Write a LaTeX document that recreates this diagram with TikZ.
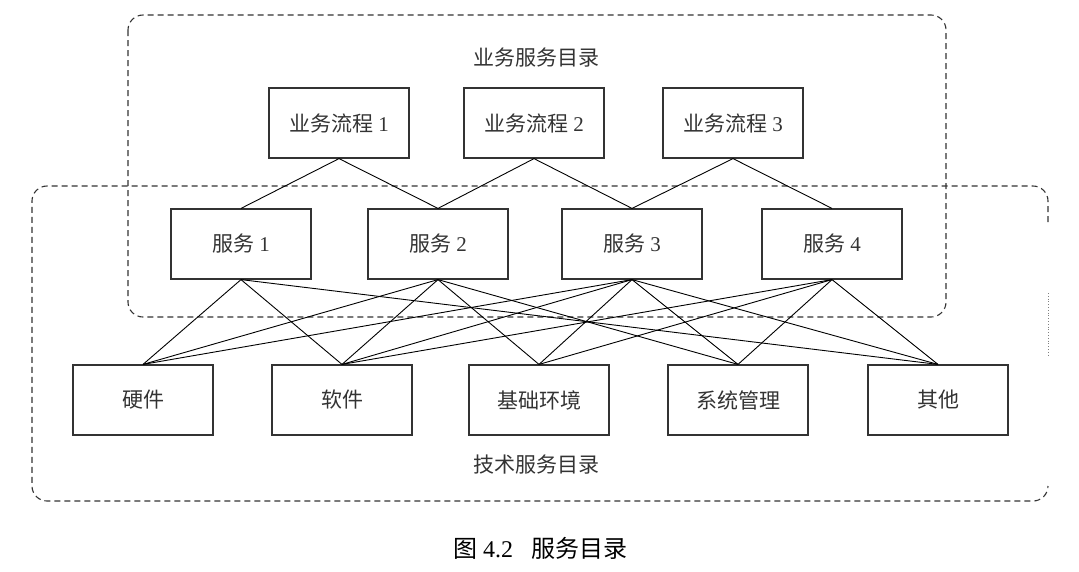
\documentclass[tikz,border=0pt]{standalone}
\usepackage{fontspec}
\setmainfont{Liberation Serif}
\newfontfamily\cjk{Noto Sans CJK SC}
\newcommand{\zh}[1]{{\cjk #1}}
\begin{document}
\begin{tikzpicture}[x=1pt,y=-1pt,
  box/.style={draw=black!80, line width=1.2pt, minimum width=140pt, minimum height=70pt, inner sep=0pt, font=\fontsize{21}{24}\selectfont, text=black!80},
  link/.style={draw=black, line width=0.9pt},
  grp/.style={draw=black!80, line width=1.1pt, dash pattern=on 6pt off 4pt, rounded corners=15pt},
  lbl/.style={font=\fontsize{21}{24}\selectfont, text=black!80}]
\useasboundingbox (0,0) rectangle (1079,571);
% group frames
\draw[grp] (128,15) rectangle (946,317);
\draw[grp] (1048,222) -- (1048,186) -- (32,186) -- (32,501) -- (1048,501) -- (1048,486);
\draw[black!50, line width=0.8pt, dotted] (1048,293) -- (1048,357);
% labels
\node[lbl] (bizlbl) at (536,58) {\zh{业务服务目录}};
\node[lbl] (techlbl) at (536,465) {\zh{技术服务目录}};
\node[font=\fontsize{24}{28}\selectfont] (cap) at (540,548) {\zh{图} 4.2\hspace{18pt}\zh{服务目录}};
% process boxes
\node[box] (p1) at (339,123) {\zh{业务流程} 1};
\node[box] (p2) at (534,123) {\zh{业务流程} 2};
\node[box] (p3) at (733,123) {\zh{业务流程} 3};
% services
\node[box] (s1) at (241,244) {\zh{服务} 1};
\node[box] (s2) at (438,244) {\zh{服务} 2};
\node[box] (s3) at (632,244) {\zh{服务} 3};
\node[box] (s4) at (832,244) {\zh{服务} 4};
% technical
\node[box] (t1) at (143,400) {\zh{硬件}};
\node[box] (t2) at (342,400) {\zh{软件}};
\node[box] (t3) at (539,400) {\zh{基础环境}};
\node[box] (t4) at (738,400) {\zh{系统管理}};
\node[box] (t5) at (938,400) {\zh{其他}};
% process-service links
\draw[link] (p1.south) -- (s1.north);
\draw[link] (p1.south) -- (s2.north);
\draw[link] (p2.south) -- (s2.north);
\draw[link] (p2.south) -- (s3.north);
\draw[link] (p3.south) -- (s3.north);
\draw[link] (p3.south) -- (s4.north);
% service-technical links
\foreach \s/\t in {s1/t1,s1/t2,s1/t5,
                   s2/t1,s2/t2,s2/t3,s2/t4,
                   s3/t1,s3/t2,s3/t3,s3/t4,s3/t5,
                   s4/t2,s4/t3,s4/t4,s4/t5}{
  \draw[link] (\s.south) -- (\t.north);
}
\end{tikzpicture}
\end{document}
